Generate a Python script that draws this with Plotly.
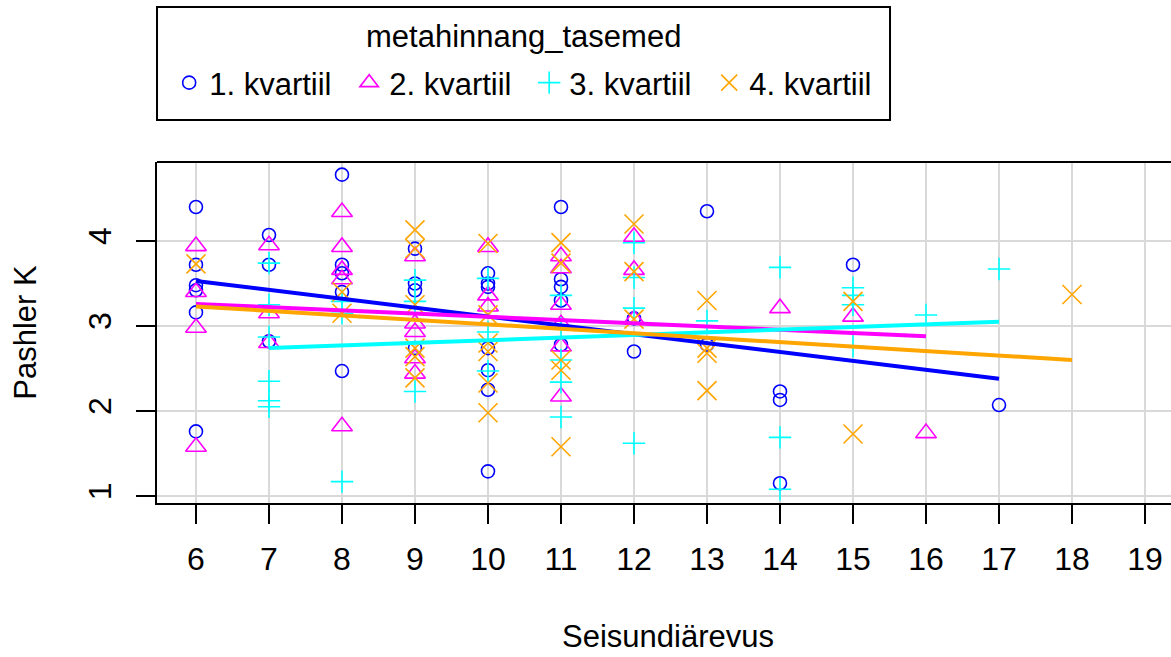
import plotly.graph_objects as go

# ---- data ----
groups = ["1. kvartiil", "2. kvartiil", "3. kvartiil", "4. kvartiil"]
legend_title = "metahinnang_tasemed"

g1_x = [6, 6, 6, 6, 6, 6, 7, 7, 7, 8, 8, 8, 8, 8, 9, 9, 9, 9,
        10, 10, 10, 10, 10, 10, 10, 11, 11, 11, 11, 11, 12, 12, 13, 13,
        14, 14, 14, 15, 17]
g1_y = [4.40, 3.72, 3.48, 3.42, 3.16, 1.76, 4.07, 3.72, 2.82, 4.78, 3.72, 3.62, 3.40, 2.47,
        3.91, 3.50, 3.42, 2.74, 3.62, 3.50, 3.46, 2.74, 2.48, 2.25, 1.29,
        4.40, 3.55, 3.46, 3.30, 2.78, 3.09, 2.70, 4.35, 2.78, 2.23, 2.13, 1.15, 3.72, 2.07]

g2_x = [6, 6, 6, 6, 7, 7, 7, 8, 8, 8, 8, 8, 9, 9, 9, 9, 9,
        10, 10, 10, 11, 11, 11, 11, 11, 11, 12, 12, 12, 14, 15, 16]
g2_y = [3.94, 3.40, 2.98, 1.58, 3.95, 3.15, 2.80, 4.34, 3.93, 3.66, 3.55, 1.82,
        3.82, 3.03, 2.93, 2.62, 2.44, 3.93, 3.36, 3.23,
        3.82, 3.68, 3.25, 3.02, 2.76, 2.17, 4.05, 3.66, 3.08, 3.21, 3.11, 1.74]

g3_x = [7, 7, 7, 7, 7, 7, 8, 8, 8, 9, 9, 9, 10, 10, 10, 11, 11, 11, 11, 11,
        12, 12, 12, 12, 13, 14, 14, 14, 15, 15, 15, 15, 16, 17]
g3_y = [3.74, 3.25, 2.87, 2.35, 2.12, 2.05, 3.29, 3.15, 1.17, 3.54, 3.29, 2.23,
        3.56, 2.93, 2.47, 3.36, 2.97, 2.60, 2.34, 1.93,
        3.98, 3.57, 3.21, 1.62, 3.06, 3.69, 1.69, 1.08, 3.45, 3.36, 3.25, 2.76, 3.13, 3.67]

g4_x = [6, 8, 8, 9, 9, 9, 9, 9, 9, 10, 10, 10, 10, 10, 10, 11, 11, 11, 11, 11,
        12, 12, 12, 13, 13, 13, 13, 15, 15, 18]
g4_y = [3.73, 3.40, 3.15, 4.13, 3.91, 3.25, 2.74, 2.64, 2.39, 3.97, 3.13, 2.80, 2.70, 2.33, 1.98,
        3.98, 3.74, 2.60, 2.48, 1.58, 4.20, 3.64, 3.08, 3.30, 2.74, 2.68, 2.24, 3.29, 1.73, 3.37]

# fitted regression lines (value at the group's min and max x)
fit_x = [[6, 17], [6, 16], [7, 17], [6, 18]]
fit_y = [[3.53, 2.38], [3.26, 2.88], [2.74, 3.05], [3.23, 2.60]]

x_ticks = list(range(6, 20))
y_ticks = [1, 2, 3, 4]

colors = ["#0000FF", "#FF00FF", "#00FFFF", "#FFA500"]
symbols = ["circle-open", "triangle-up-open", "cross-thin-open", "x-thin-open"]
sizes = [13, 18, 16, 19]

FONT = "Liberation Sans, Arial, sans-serif"

fig = go.Figure()
xs = [g1_x, g2_x, g3_x, g4_x]
ys = [g1_y, g2_y, g3_y, g4_y]
for i in range(4):
    fig.add_trace(go.Scatter(
        x=xs[i], y=ys[i], mode="markers", name=groups[i],
        marker=dict(symbol=symbols[i], size=sizes[i], color=colors[i],
                    line=dict(color=colors[i], width=1.6)),
    ))
for i in range(4):
    fig.add_trace(go.Scatter(
        x=fit_x[i], y=fit_y[i], mode="lines", showlegend=False,
        line=dict(color=colors[i], width=4),
    ))

fig.update_layout(
    width=1171, height=657,
    margin=dict(l=157, r=0, t=162, b=154, autoexpand=False),
    paper_bgcolor="white", plot_bgcolor="white",
    font=dict(family=FONT, size=31, color="black"),
    showlegend=True,
    legend=dict(
        orientation="h", x=0.012, xanchor="left", y=1.2317, yanchor="middle",
        bgcolor="rgba(0,0,0,0)", borderwidth=0,
        font=dict(family=FONT, size=31, color="black"),
        entrywidth=135, itemsizing="trace",
    ),
    xaxis=dict(
        range=[5.466, 19.356], tickvals=x_ticks, ticktext=[str(v) for v in x_ticks],
        showgrid=True, gridcolor="#D9D9D9", gridwidth=2, zeroline=False,
        showline=True, linecolor="black", linewidth=2, mirror=False,
        ticks="outside", ticklen=19, tickwidth=2, tickcolor="black",
        tickfont=dict(family=FONT, size=32, color="black"),
        ticklabelstandoff=8,
    ),
    yaxis=dict(
        range=[0.918, 4.929], tickvals=y_ticks, ticktext=[str(v) for v in y_ticks],
        showgrid=True, gridcolor="#D9D9D9", gridwidth=2, zeroline=False,
        showline=True, linecolor="black", linewidth=2, mirror=False,
        ticks="outside", ticklen=19, tickwidth=2, tickcolor="black",
        tickangle=-90,
        tickfont=dict(family=FONT, size=32, color="black"),
        ticklabelstandoff=12,
    ),
    shapes=[
        dict(type="line", xref="paper", yref="paper", x0=0, x1=1.05, y0=1, y1=1,
             line=dict(color="black", width=2), layer="above"),
        dict(type="rect", xref="paper", yref="paper", x0=0, x1=0.7229,
             y0=1.1232, y1=1.4545, line=dict(color="black", width=2),
             fillcolor="rgba(0,0,0,0)", layer="above"),
    ],
    annotations=[
        dict(text=legend_title, xref="paper", yref="paper", x=0.3614, y=1.3666,
             xanchor="center", yanchor="middle", showarrow=False,
             font=dict(family=FONT, size=31, color="black")),
        dict(text="Seisundiärevus", xref="paper", yref="paper", x=0.504, y=-0.392,
             xanchor="center", yanchor="middle", showarrow=False,
             font=dict(family=FONT, size=31, color="black")),
        dict(text="Pashler K", xref="paper", yref="paper", x=-0.130, y=0.5,
             xanchor="center", yanchor="middle", textangle=-90, showarrow=False,
             font=dict(family=FONT, size=31, color="black")),
    ],
)

fig.write_html("out.html")
